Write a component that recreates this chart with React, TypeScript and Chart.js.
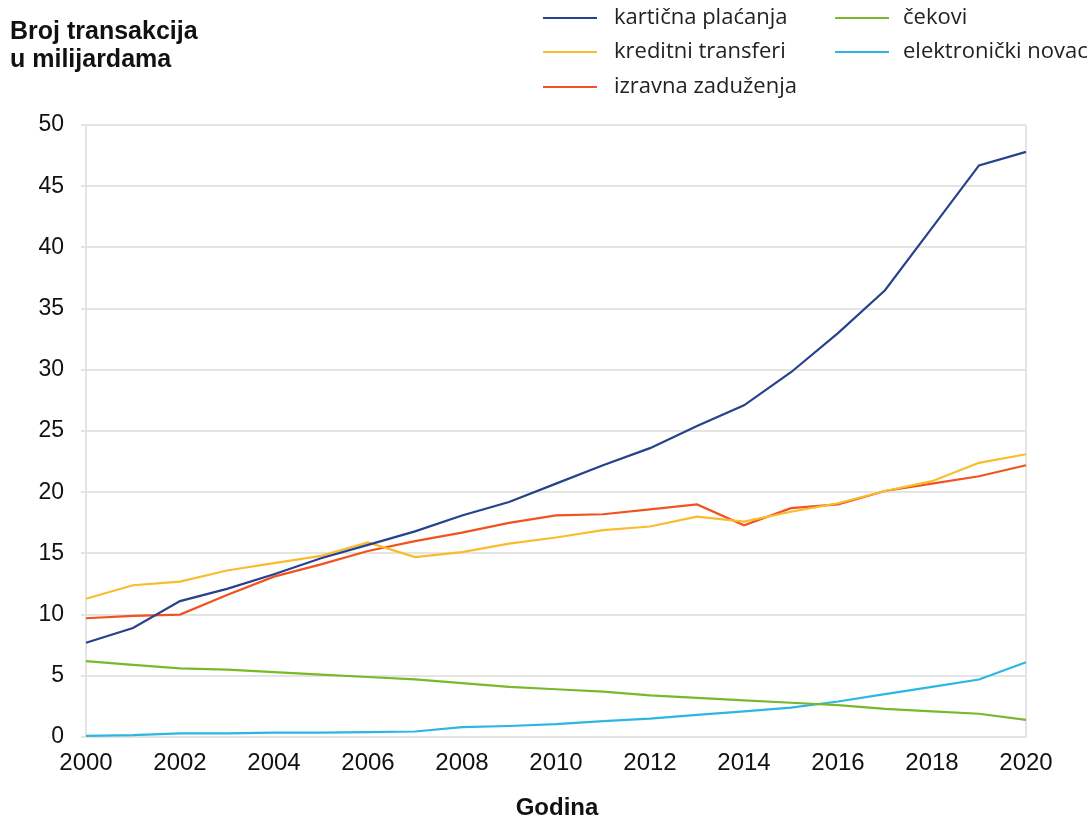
import React, { useEffect, useRef } from "react";
import { Chart, registerables } from "chart.js";

Chart.register(...registerables);

const years = [
  "2000", "2001", "2002", "2003", "2004", "2005", "2006", "2007", "2008", "2009", "2010",
  "2011", "2012", "2013", "2014", "2015", "2016", "2017", "2018", "2019", "2020",
];

const cardPayments = [7.7, 8.9, 11.1, 12.1, 13.3, 14.6, 15.7, 16.8, 18.1, 19.2, 20.7, 22.2, 23.6, 25.4, 27.1, 29.8, 33.0, 36.5, 41.6, 46.7, 47.8];
const creditTransfers = [11.3, 12.4, 12.7, 13.6, 14.2, 14.8, 15.9, 14.7, 15.1, 15.8, 16.3, 16.9, 17.2, 18.0, 17.6, 18.4, 19.1, 20.1, 20.9, 22.4, 23.1];
const directDebits = [9.7, 9.9, 10.0, 11.6, 13.1, 14.1, 15.2, 16.0, 16.7, 17.5, 18.1, 18.2, 18.6, 19.0, 17.3, 18.7, 19.0, 20.1, 20.7, 21.3, 22.2];
const cheques = [6.2, 5.9, 5.6, 5.5, 5.3, 5.1, 4.9, 4.7, 4.4, 4.1, 3.9, 3.7, 3.4, 3.2, 3.0, 2.8, 2.6, 2.3, 2.1, 1.9, 1.4];
const eMoney = [0.1, 0.15, 0.3, 0.3, 0.35, 0.35, 0.4, 0.45, 0.8, 0.9, 1.05, 1.3, 1.5, 1.8, 2.1, 2.4, 2.9, 3.5, 4.1, 4.7, 6.1];

const seriesLabels = ["kartična plaćanja", "kreditni transferi", "izravna zaduženja", "čekovi", "elektronički novac"];
const seriesColors = ["#27428c", "#f9bc2c", "#f2521f", "#78b82a", "#2db6e4"];

const titleLines = ["Broj transakcija", "u milijardama"];
const xTitle = "Godina";

const GRID = "#e4e4e4";

const decorPlugin = {
  id: "decor",
  afterDraw(chart: any) {
    const ctx = chart.ctx as CanvasRenderingContext2D;
    const area = chart.chartArea;
    ctx.save();
    // title top-left
    ctx.fillStyle = "#111";
    ctx.font = "bold 25px 'Liberation Sans', Arial, sans-serif";
    ctx.textBaseline = "middle";
    ctx.textAlign = "left";
    ctx.fillText(titleLines[0], 10, 32);
    ctx.fillText(titleLines[1], 10, 60);
    // x title
    ctx.font = "bold 24px 'Liberation Sans', Arial, sans-serif";
    ctx.textAlign = "center";
    ctx.fillText(xTitle, (area.left + area.right) / 2 + 1, 808);
    // legend (column-major, 2 columns)
    const cols = [
      { lx: 543, tx: 614 },
      { lx: 835, tx: 903 },
    ];
    const rows = [18, 52, 87];
    ctx.font = "22px 'Open Sans', sans-serif";
    ctx.textAlign = "left";
    chart.data.datasets.forEach((ds: any, i: number) => {
      const c = cols[Math.floor(i / 3)];
      const y = rows[i % 3];
      ctx.strokeStyle = ds.borderColor;
      ctx.lineWidth = 2;
      ctx.beginPath();
      ctx.moveTo(c.lx, y);
      ctx.lineTo(c.lx + 54, y);
      ctx.stroke();
      ctx.fillStyle = "#222";
      ctx.fillText(ds.label, c.tx, y);
    });
    ctx.restore();
  },
};

export default function App() {
  const ref = useRef<HTMLCanvasElement>(null);
  useEffect(() => {
    if (!ref.current) return;
    const values = [cardPayments, creditTransfers, directDebits, cheques, eMoney];
    const chart = new Chart(ref.current, {
      type: "line",
      data: {
        labels: years,
        datasets: values.map((v, i) => ({
          label: seriesLabels[i],
          data: v,
          borderColor: seriesColors[i],
          backgroundColor: seriesColors[i],
          borderWidth: 2.2,
          pointRadius: 0,
          tension: 0,
          fill: false,
        })),
      },
      options: {
        animation: false,
        responsive: false,
        devicePixelRatio: 1,
        layout: { padding: { top: 125, right: 65, bottom: 0, left: 0 } },
        plugins: {
          legend: { display: false },
          title: { display: false },
          tooltip: { enabled: false },
        },
        scales: {
          x: {
            type: "category",
            offset: false,
            afterFit(scale: any) {
              scale.height = 85;
            },
            grid: {
              drawTicks: false,
              color: (c: any) => (c.index === years.length - 1 ? GRID : "rgba(0,0,0,0)"),
              lineWidth: 2,
            },
            border: { display: true, color: GRID, width: 2 },
            ticks: {
              autoSkip: false,
              maxRotation: 0,
              padding: 12,
              color: "#111",
              font: { family: "'Liberation Sans', Arial, sans-serif", size: 24 },
              callback: (_v: any, idx: number) => (idx % 2 === 0 ? years[idx] : ""),
            },
          },
          y: {
            min: 0,
            max: 50,
            afterFit(scale: any) {
              scale.width = 86;
            },
            grid: { color: GRID, lineWidth: 2, tickLength: 5, tickColor: GRID },
            border: { display: true, color: GRID, width: 2 },
            ticks: {
              stepSize: 5,
              padding: 17,
              color: "#111",
              font: { family: "'Liberation Sans', Arial, sans-serif", size: 23 },
            },
          },
        },
      },
      plugins: [decorPlugin],
    });
    return () => chart.destroy();
  }, []);
  return (
    <div style={{ position: "absolute", left: 0, top: 0, width: 1091, height: 822, background: "#fff" }}>
      <canvas ref={ref} width={1091} height={822} style={{ display: "block" }} />
    </div>
  );
}
